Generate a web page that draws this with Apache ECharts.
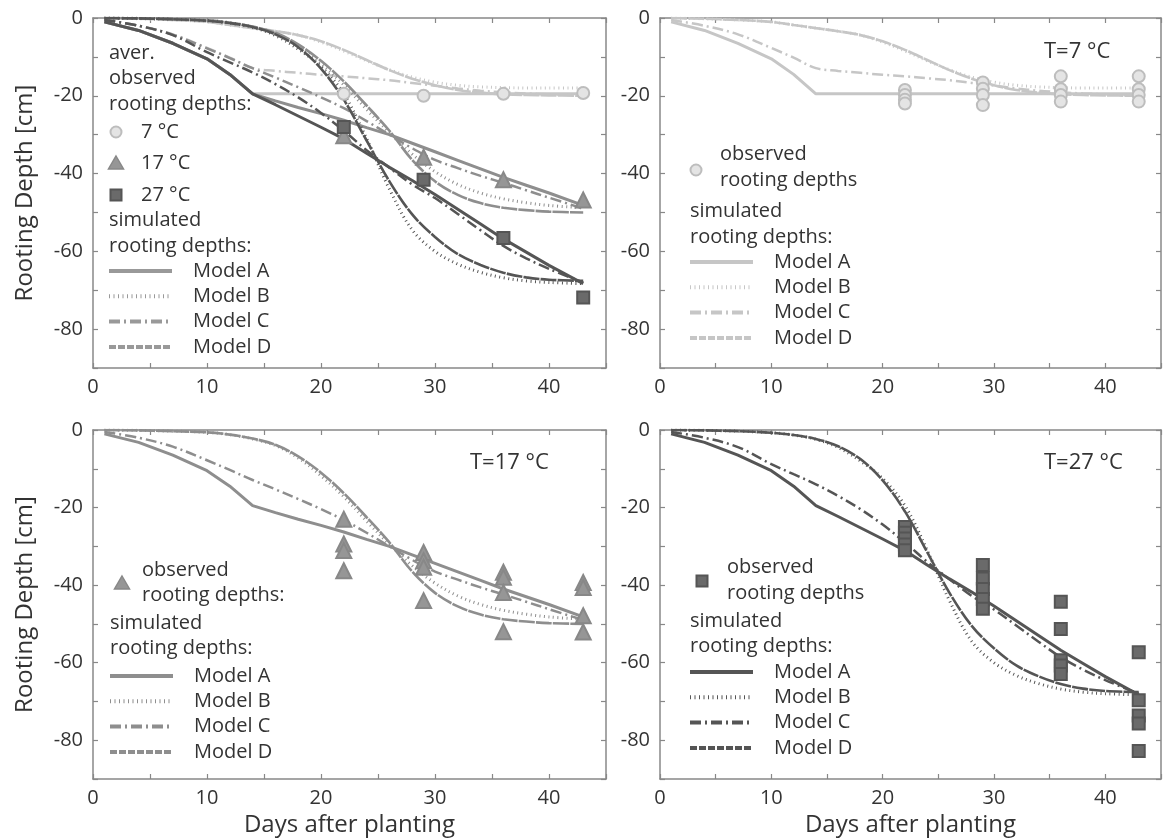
<!DOCTYPE html>
<html>
<head>
<meta charset="utf-8">
<script src="https://cdn.jsdelivr.net/npm/echarts@6/dist/echarts.min.js"></script>
<style>
  html, body { margin: 0; padding: 0; background: #fff; }
  #chart { width: 1164px; height: 838px; }
</style>
</head>
<body>
<div id="chart"></div>
<script>
// days at which the simulated curves are sampled
const days = [1, 4, 7, 10, 12, 14, 16, 18, 20, 22, 24, 26, 28, 30, 32, 34, 36, 38, 40, 43];

// simulated rooting depths, 7 °C
const a7 = [-1, -3.2, -6.5, -10.5, -14.5, -19.5, -19.5, -19.5, -19.5, -19.5, -19.5, -19.5, -19.5, -19.5, -19.5, -19.5, -19.5, -19.5, -19.5, -19.5];
const b7 = [0, -0.2, -0.5, -1, -1.8, -2.6, -3.4, -4.4, -6.2, -8.5, -11, -13.3, -15.2, -16.5, -17.3, -17.7, -17.9, -18, -18, -18];
const c7 = [-0.5, -2, -4.2, -7.7, -10.2, -12.9, -13.6, -14.1, -14.6, -15, -15.5, -16, -16.7, -17.4, -18.1, -18.7, -19.1, -19.4, -19.6, -19.8];
const d7 = [0, -0.2, -0.5, -1, -1.8, -2.6, -3.4, -4.4, -6, -8.2, -10.8, -13.4, -15.6, -17.3, -18.5, -19.2, -19.6, -19.8, -19.9, -20];

// simulated rooting depths, 17 °C
const a17 = [-1, -3.2, -6.5, -10.5, -14.5, -19.5, -21.3, -23, -24.6, -26.3, -28.2, -30, -32.2, -34.4, -36.6, -38.8, -41, -43, -45, -48.2];
const b17 = [0, -0.1, -0.3, -0.6, -1.2, -2.3, -4, -7.2, -11.8, -17.2, -23.5, -29.5, -35, -39.5, -42.8, -45, -46.5, -47.5, -48.2, -48.8];
const c17 = [-0.5, -2, -4.3, -7.8, -10.3, -12.9, -15.3, -17.8, -20.4, -23.2, -26.5, -30, -33.5, -36.5, -38.6, -40.6, -42.4, -44.3, -46.2, -49];
const d17 = [0, -0.1, -0.3, -0.6, -1.2, -2.2, -3.8, -6.8, -11, -16.3, -22.5, -29, -36.5, -42, -45.5, -47.6, -48.8, -49.4, -49.8, -50];

// simulated rooting depths, 27 °C
const a27 = [-1, -3.2, -6.5, -10.5, -14.5, -19.5, -22.3, -25.2, -28.1, -31.1, -34.8, -38.4, -41.8, -45.4, -49.2, -53, -56.8, -60.2, -63.6, -68.3];
const b27 = [0, -0.1, -0.3, -0.7, -1.3, -2.4, -4.5, -8, -12.5, -19.5, -31, -44, -54.5, -60, -63.3, -65.4, -66.8, -67.6, -68, -68.3];
const c27 = [-0.5, -2, -4.4, -8.8, -11.4, -14, -17, -20.4, -24.4, -29, -34, -38.5, -42.8, -46.3, -50.4, -54.6, -58.6, -61.8, -64.5, -68];
const d27 = [0, -0.1, -0.3, -0.7, -1.3, -2.3, -4.2, -7.5, -13, -21, -31.5, -42, -50.5, -56.3, -60.7, -63.5, -65.5, -66.7, -67.3, -67.6];

// observation days and observed rooting depths
const obsDays = [22, 29, 36, 43];
const avg7 = [-19.5, -20, -19.5, -19.3];
const avg17 = [-30.3, -35.8, -41.6, -46.8];
const avg27 = [-28, -41.6, -56.6, -71.9];
const obs7 = [[-18.5, -19.8, -21, -22], [-16.6, -18.2, -19.8, -22.4], [-15, -18.3, -19.8, -21.5], [-15, -18.3, -19.8, -21.5]];
const obs17 = [[-23, -29.4, -31.1, -36.3], [-31.6, -33.7, -35.4, -44], [-36.7, -38, -41.9, -52], [-39.3, -40.6, -47.9, -52.1]];
const obs27 = [[-25, -26.5, -28, -29.5, -31], [-34.8, -38.3, -41, -43.6, -46.1], [-44.3, -51.3, -59.4, -60.7, -62.9], [-57.3, -69.7, -73.6, -75.7, -82.8]];

const xTicks = [0, 10, 20, 30, 40];
const yTicks = [0, -20, -40, -60, -80];

const FONT = '"Open Sans", "Noto Sans", sans-serif';
const TXT = '#333';
const AXIS = '#888';
const col7 = '#c6c6c6', col17 = '#8e8e8e', col27 = '#555555';

const chart = echarts.init(document.getElementById('chart'));

const grids = [
  { left: 93, top: 18, width: 513, height: 350 },
  { left: 660, top: 18, width: 513, height: 350 },
  { left: 93, top: 430, width: 513, height: 350 },
  { left: 660, top: 430, width: 513, height: 350 }
];

const xAxes = [], yAxes = [];
grids.forEach((g, i) => {
  const bottom = i >= 2;
  xAxes.push({
    type: 'value', gridIndex: i, min: 0, max: 45, interval: 5,
    axisLine: { show: true, onZero: false, lineStyle: { color: AXIS, width: 1.5 } },
    axisTick: { show: true, inside: true, length: 5, lineStyle: { color: AXIS, width: 1.2 } },
    splitLine: { show: false },
    axisLabel: {
      color: TXT, fontSize: 20, fontFamily: FONT, margin: 9,
      formatter: v => (xTicks.indexOf(v) >= 0 ? String(v) : '')
    },
    name: bottom ? 'Days after planting' : '',
    nameLocation: 'middle', nameGap: 34,
    nameTextStyle: { color: TXT, fontSize: 24, fontFamily: FONT }
  });
  xAxes.push({
    type: 'value', gridIndex: i, min: 0, max: 45, interval: 5, position: 'top',
    axisLine: { show: true, onZero: false, lineStyle: { color: AXIS, width: 1.5 } },
    axisTick: { show: true, inside: true, length: 5, lineStyle: { color: AXIS, width: 1.2 } },
    splitLine: { show: false }, axisLabel: { show: false }
  });
  yAxes.push({
    type: 'value', gridIndex: i, min: -90, max: 0, interval: 10,
    axisLine: { show: true, onZero: false, lineStyle: { color: AXIS, width: 1.5 } },
    axisTick: { show: true, inside: true, length: 5, lineStyle: { color: AXIS, width: 1.2 } },
    splitLine: { show: false },
    axisLabel: {
      color: TXT, fontSize: 20, fontFamily: FONT, margin: 10,
      formatter: v => (yTicks.indexOf(v) >= 0 ? String(v) : '')
    },
    name: (i % 2 === 0) ? 'Rooting Depth [cm]' : '',
    nameLocation: 'middle', nameGap: 56,
    nameTextStyle: { color: TXT, fontSize: 24, fontFamily: FONT }
  });
  yAxes.push({
    type: 'value', gridIndex: i, min: -90, max: 0, interval: 10, position: 'right',
    axisLine: { show: true, onZero: false, lineStyle: { color: AXIS, width: 1.5 } },
    axisTick: { show: true, inside: true, length: 5, lineStyle: { color: AXIS, width: 1.2 } },
    splitLine: { show: false }, axisLabel: { show: false }
  });
});

const zip = (xs, ys) => xs.map((x, k) => [x, ys[k]]);

const styles = {
  A: { type: 'solid', width: 3 },
  B: { type: [1, 3.5], width: 3 },
  C: { type: [11, 4, 2, 4], width: 2.5 },
  D: { type: [16, 1.2], width: 2.6 }
};

function curve(grid, vals, color, model) {
  return {
    type: 'line', xAxisIndex: grid * 2, yAxisIndex: grid * 2,
    data: zip(days, vals), symbol: 'none', smooth: model === 'A' ? false : 0.35,
    lineStyle: Object.assign({ color: color, cap: 'butt' }, styles[model]),
    silent: true, animation: false
  };
}

function scatter(grid, pts, symbol, size, fill, border) {
  return {
    type: 'scatter', xAxisIndex: grid * 2, yAxisIndex: grid * 2,
    data: pts, symbol: symbol, symbolSize: size, z: 5,
    itemStyle: { color: fill, borderColor: border, borderWidth: 2, opacity: 1 },
    silent: true, animation: false
  };
}

function spread(obs) {
  const pts = [];
  obs.forEach((vals, k) => vals.forEach(v => pts.push([obsDays[k], v])));
  return pts;
}

const sets = [
  { a: a7, b: b7, c: c7, d: d7, color: col7 },
  { a: a17, b: b17, c: c17, d: d17, color: col17 },
  { a: a27, b: b27, c: c27, d: d27, color: col27 }
];

const series = [];
// panel 0: every temperature together with averaged observations
sets.forEach(s => {
  series.push(curve(0, s.a, s.color, 'A'));
  series.push(curve(0, s.b, s.color, 'B'));
  series.push(curve(0, s.c, s.color, 'C'));
  series.push(curve(0, s.d, s.color, 'D'));
});
series.push(scatter(0, zip(obsDays, avg7), 'circle', 12, '#e4e4e4', '#bdbdbd'));
series.push(scatter(0, zip(obsDays, avg17), 'triangle', 15, '#969696', '#888'));
series.push(scatter(0, zip(obsDays, avg27), 'rect', 12, '#6a6a6a', '#555'));

// panels 1-3: one temperature each
sets.forEach((s, k) => {
  const g = k + 1;
  series.push(curve(g, s.a, s.color, 'A'));
  series.push(curve(g, s.b, s.color, 'B'));
  series.push(curve(g, s.c, s.color, 'C'));
  series.push(curve(g, s.d, s.color, 'D'));
});
series.push(scatter(1, spread(obs7), 'circle', 12, '#e4e4e4', '#bdbdbd'));
series.push(scatter(2, spread(obs17), 'triangle', 15, '#969696', '#888'));
series.push(scatter(3, spread(obs27), 'rect', 12, '#6a6a6a', '#555'));

// hand-made legends
const graphic = [];
function txt(x, y, s, size) {
  graphic.push({ type: 'text', x: x, y: y, silent: true,
    style: { text: s, fill: TXT, font: (size || 20) + 'px ' + FONT, textVerticalAlign: 'middle' } });
}
function sample(x, y, color, model) {
  const st = styles[model];
  const w = model === 'B' ? 4 : 4;
  graphic.push({ type: 'line', silent: true,
    shape: { x1: x, y1: y, x2: x + 63, y2: y },
    style: { stroke: color, lineWidth: w, lineDash: st.type === 'solid' ? null : (model === 'D' ? [7, 2] : st.type) } });
}
function models(x, y0, color) {
  ['A', 'B', 'C', 'D'].forEach((m, k) => {
    sample(x, y0 + k * 25.3, color, m);
    txt(x + 84, y0 + k * 25.3, 'Model ' + m);
  });
}
function mark(kind, x, y) {
  if (kind === 'circle') {
    graphic.push({ type: 'circle', silent: true, shape: { cx: x, cy: y, r: 5.5 },
      style: { fill: '#e4e4e4', stroke: '#bdbdbd', lineWidth: 2 } });
  } else if (kind === 'triangle') {
    graphic.push({ type: 'polygon', silent: true, shape: { points: [[x, y - 7], [x + 7.5, y + 6], [x - 7.5, y + 6]] },
      style: { fill: '#969696', stroke: '#888', lineWidth: 1.5 } });
  } else {
    graphic.push({ type: 'rect', silent: true, shape: { x: x - 5.5, y: y - 5.5, width: 11, height: 11 },
      style: { fill: '#6a6a6a', stroke: '#555', lineWidth: 2 } });
  }
}

// top-left
txt(109, 53, 'aver.');
txt(109, 78, 'observed');
txt(109, 104, 'rooting depths:');
mark('circle', 116, 132); txt(141, 132, '7 °C');
mark('triangle', 116, 163); txt(141, 163, '17 °C');
mark('rect', 116, 195); txt(141, 195, '27 °C');
txt(109, 220, 'simulated');
txt(109, 246, 'rooting depths:');
models(109, 271, '#999');

// top-right
mark('circle', 696, 170);
txt(720, 154, 'observed');
txt(720, 180, 'rooting depths');
txt(690, 211, 'simulated');
txt(690, 237, 'rooting depths:');
models(690, 262, col7);
txt(1044, 52, 'T=7 °C', 22);

// bottom-left
mark('triangle', 122, 583);
txt(142, 570, 'observed');
txt(142, 595, 'rooting depths:');
txt(110, 623, 'simulated');
txt(110, 648, 'rooting depths:');
models(110, 676, col17);
txt(470, 463, 'T=17 °C', 22);

// bottom-right
mark('rect', 702, 581);
txt(727, 567, 'observed');
txt(727, 593, 'rooting depths');
txt(690, 621, 'simulated');
txt(690, 646, 'rooting depths:');
models(690, 672, col27);
txt(1044, 463, 'T=27 °C', 22);

chart.setOption({
  animation: false,
  backgroundColor: '#fff',
  grid: grids,
  xAxis: xAxes,
  yAxis: yAxes,
  series: series,
  graphic: graphic
});
</script>
</body>
</html>
